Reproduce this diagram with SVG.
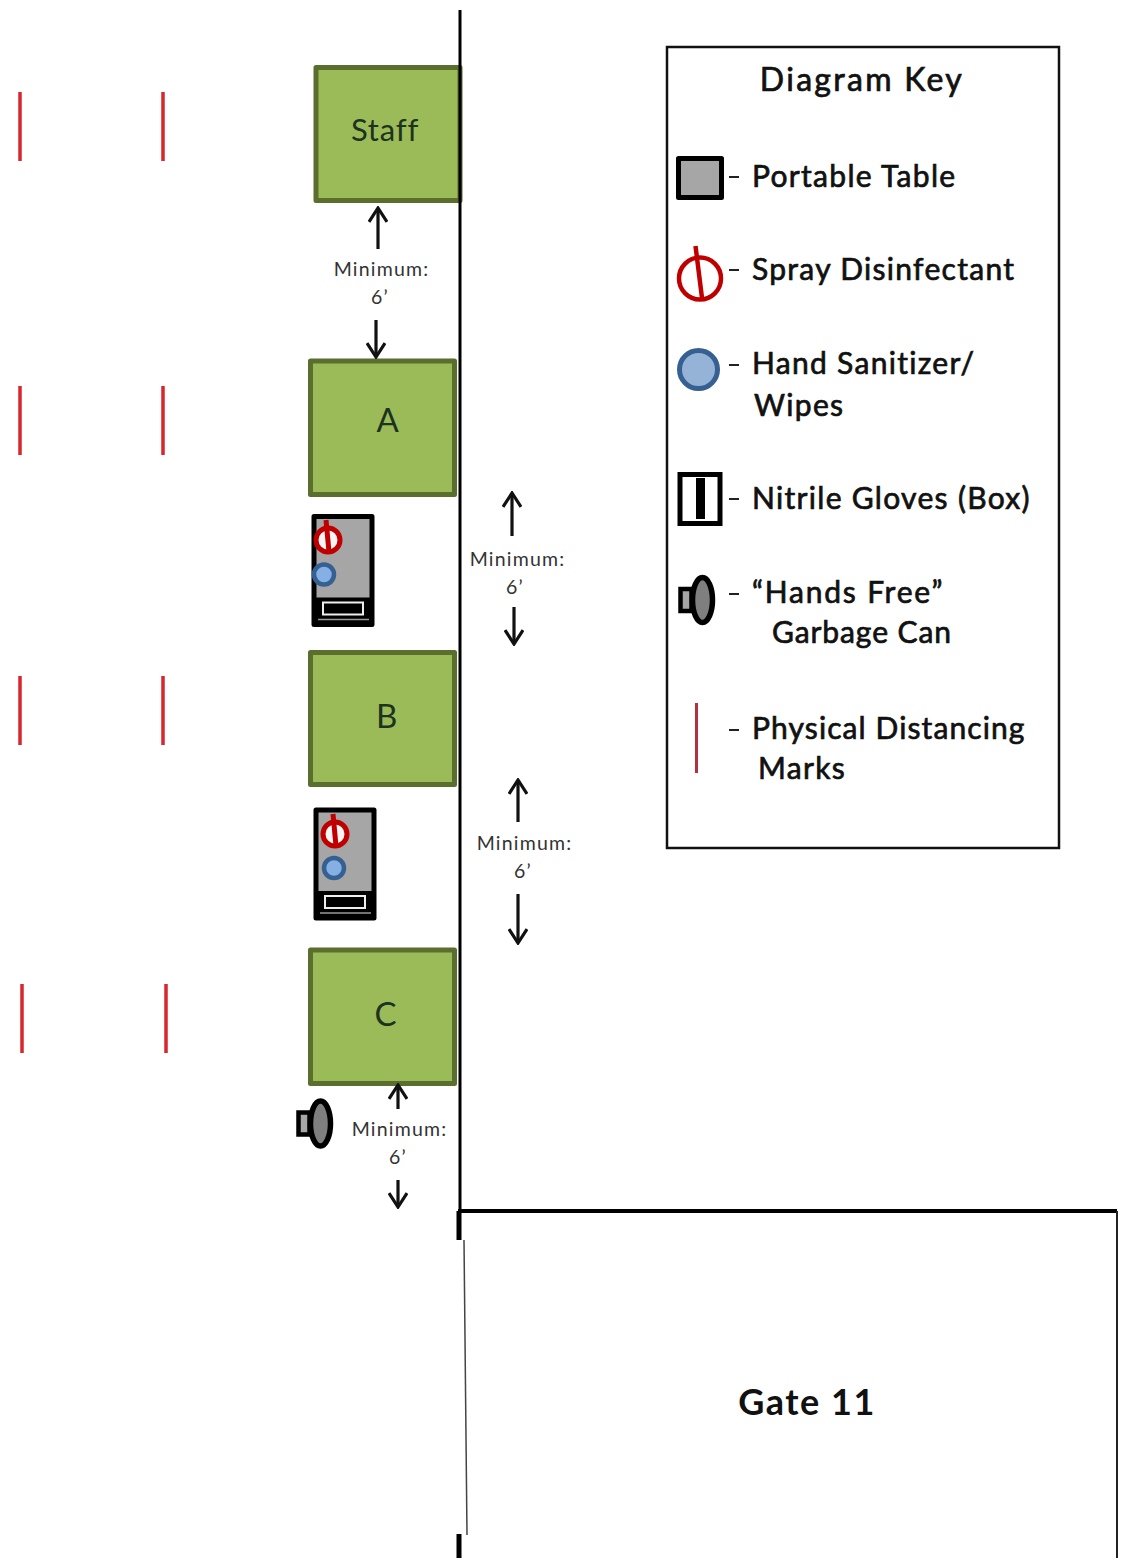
<svg xmlns="http://www.w3.org/2000/svg" width="1125" height="1558" viewBox="0 0 1125 1558">
<style>
text{font-family:Lato,"Open Sans","Liberation Sans",sans-serif;fill:#111}
.station{fill:#9bbb59;stroke:#5a6f2e;stroke-width:5;stroke-linejoin:round}
.lbl{font-size:33px;text-anchor:middle;fill:#1d3320;letter-spacing:.8px}
.key{font-size:30px;letter-spacing:1.3px;stroke:#111;stroke-width:.7px}
.min{font-size:19.500px;text-anchor:middle;fill:#333;letter-spacing:1.2px}
.wall{stroke:#000;stroke-width:3;fill:none}
.mark{stroke:#d8262c;stroke-width:3.5;fill:none}
.arr{stroke:#111;stroke-width:3.2;fill:none;marker-end:url(#ah)}
.tbl{fill:#a6a6a6;stroke:#000;stroke-width:5;stroke-linejoin:round}
.spray{fill:none;stroke:#c00000;stroke-width:4.500}
.san{fill:#95b3d7;stroke:#376092;stroke-width:5}
</style>
<defs>
<marker id="ah" viewBox="0 0 20 20" refX="18" refY="10" markerWidth="20" markerHeight="20" markerUnits="userSpaceOnUse" orient="auto"><path d="M4 1L18 10L4 19" fill="none" stroke="#111" stroke-width="3.2"/></marker>
<g id="can"><rect x="-22" y="-11" width="11" height="22" fill="#a6a6a6" stroke="#000" stroke-width="4.500"/><ellipse cx="0" cy="0" rx="10" ry="22.500" fill="#7f7f7f" stroke="#000" stroke-width="5.500"/></g>
<g id="setup-base">
<rect class="tbl" x="0" y="0" width="58" height="108"/>
<rect x="2" y="81" width="54" height="26" fill="#000"/>
<path d="M4 103H55" stroke="#999" stroke-width="1.500" fill="none"/>
<rect x="9" y="86" width="40" height="12" fill="#000" stroke="#eee" stroke-width="2"/>
</g>
<g id="spray-small">
<circle r="12" fill="#f5f5f5" stroke="#c00000" stroke-width="5"/>
<path d="M-2 -20L1 12" stroke="#c00000" stroke-width="5" fill="none"/>
</g>
<g id="san-small"><circle r="10" fill="#85b0e4" stroke="#376092" stroke-width="4.500"/></g>
</defs>

<g id="node-staff"><rect class="station" x="316" y="67.500" width="144" height="133"/><text class="lbl" x="385" y="141" style="font-size:31px">Staff</text></g>
<g id="node-a"><rect class="station" x="310.500" y="361" width="144" height="133.500"/><text class="lbl" x="388" y="432">A</text></g>
<g id="node-b"><rect class="station" x="310.500" y="652.500" width="144" height="132"/><text class="lbl" x="387" y="728">B</text></g>
<g id="node-c"><rect class="station" x="310.500" y="950" width="144" height="133.500"/><text class="lbl" x="386" y="1026">C</text></g>

<g id="walls">
<path class="wall" d="M460 10V1211"/>
<path d="M458 1211H1117" stroke="#000" stroke-width="4" fill="none"/>
<path d="M1117 1211V1558" stroke="#222" stroke-width="2" fill="none"/>
<path d="M459 1211V1240M459 1534V1558" stroke="#000" stroke-width="5" fill="none"/>
<path d="M464 1240L467 1535" stroke="#444" stroke-width="1.500" fill="none"/>
</g>

<g id="setup-1"><use href="#setup-base" x="314" y="516.500"/><use href="#spray-small" x="328" y="540"/><use href="#san-small" x="324" y="574.500"/></g>
<g id="setup-2"><use href="#setup-base" x="316" y="810"/><use href="#spray-small" x="335" y="834"/><use href="#san-small" x="334" y="868"/></g>
<g id="can-1"><use href="#can" x="320.500" y="1123.500"/></g>

<g id="marks">
<path class="mark" d="M20 92V161M163 92V161M20 386V455M163 386V455M20 676V745M163 676V745M22 984V1053M166 984V1053"/>
</g>

<g id="connectors">
<path class="arr" d="M378 249V208"/><path class="arr" d="M376 320V357"/>
<path class="arr" d="M512 536V493"/><path class="arr" d="M514 607V644"/>
<path class="arr" d="M518 822V780"/><path class="arr" d="M518 894V943"/>
<path class="arr" d="M398 1109V1085"/><path class="arr" d="M398 1180V1207"/>
</g>

<g id="dimension-labels">
<text class="min" x="381.500" y="276">Minimum:</text><text class="min" x="380" y="304">6’</text>
<text class="min" x="517.500" y="566">Minimum:</text><text class="min" x="515" y="594">6’</text>
<text class="min" x="524.500" y="850">Minimum:</text><text class="min" x="523" y="878">6’</text>
<text class="min" x="399.500" y="1136">Minimum:</text><text class="min" x="398" y="1164">6’</text>
</g>

<g id="gate-11"><text x="807" y="1415" font-size="36" font-weight="700" letter-spacing="1.500" text-anchor="middle">Gate 11</text></g>

<g id="diagram-key">
<rect x="667" y="47" width="392" height="801" fill="#fff" stroke="#111" stroke-width="2.500"/>
<text class="key" x="862" y="91" style="font-size:32px;letter-spacing:2.300px" text-anchor="middle">Diagram Key</text>
<rect x="678.500" y="158.500" width="43" height="39" class="tbl"/>
<circle class="spray" cx="700" cy="278.500" r="21"/><path d="M695.500 246L702 298" class="spray"/>
<circle class="san" cx="698.500" cy="369.500" r="19"/>
<rect x="680" y="474.500" width="40" height="49" fill="#fff" stroke="#000" stroke-width="5"/><rect x="696" y="478" width="9" height="41" fill="#000"/>
<use href="#can" x="702.500" y="600"/>
<path d="M696.500 703V773" stroke="#b5303a" stroke-width="3" fill="none"/>
<path d="M729 177H739M729 270H739M729 365H739M729 499H739M729 594H739M729 730H739" stroke="#222" stroke-width="2" fill="none"/>
<text class="key" x="752" y="187">Portable Table</text>
<text class="key" x="752" y="280">Spray Disinfectant</text>
<text class="key" x="752" y="374">Hand Sanitizer/</text>
<text class="key" x="754" y="416">Wipes</text>
<text class="key" x="752" y="509">Nitrile Gloves (Box)</text>
<text class="key" x="752" y="603" style="letter-spacing:1.800px">“Hands Free”</text>
<text class="key" x="772" y="643" style="letter-spacing:.9px">Garbage Can</text>
<text class="key" x="752" y="739" style="letter-spacing:1.100px">Physical Distancing</text>
<text class="key" x="758" y="779">Marks</text>
</g>
</svg>
